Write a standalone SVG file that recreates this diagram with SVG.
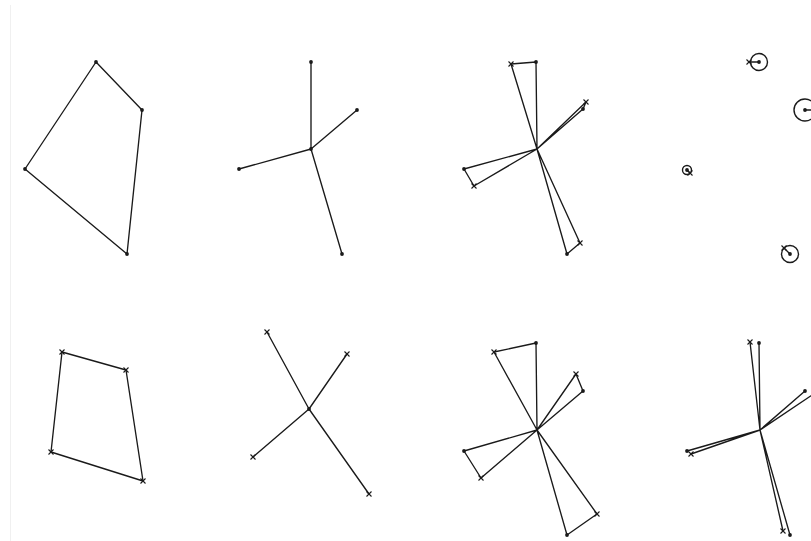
<svg xmlns="http://www.w3.org/2000/svg" width="811" height="541" viewBox="0 0 811 541">
<defs>
<style>
.ln{stroke:#1a1a1a;stroke-width:1.35;fill:none;stroke-linejoin:round}
.dot{fill:#1a1a1a}
.cx{stroke:#1a1a1a;stroke-width:1.1;fill:none}
.ring{stroke:#1a1a1a;stroke-width:1.4;fill:none}
</style>
<g id="d"><circle r="1.9" class="dot"/></g>
<g id="x"><path class="cx" d="M-2.5,-2.5L2.5,2.5M-2.5,2.5L2.5,-2.5"/><circle r="1.1" class="dot"/></g>
</defs>
<rect width="811" height="541" fill="#fff"/>
<line x1="10.5" y1="5" x2="10.5" y2="541" stroke="#f0f0f0" stroke-width="1"/>
<g id="connectors">
<polygon class="ln" points="96,62 142,110 127,254 25,169"/>
<path class="ln" d="M311,149L311,62M311,149L357,110M311,149L239,169M311,149L342,254"/>
<path class="ln" d="M537,149L536,62L511,64ZM537,149L586,102L583,109ZM537,149L464,169L474,186ZM537,149L567,254L580,243Z"/>
<path class="ln" d="M759,62L749,62M805,110L812,110M687,170L690,173M790,254L784,248"/>
<polygon class="ln" points="62,352 126,370 143,481 51,452"/>
<path class="ln" d="M309,409L267,332M309,409L347,354M309,409L253,457M309,409L369,494"/>
<path class="ln" d="M537,430L536,343L494,352ZM537,430L576,374L583,391ZM537,430L464,451L481,478ZM537,430L567,535L597,514Z"/>
<path class="ln" d="M760,430L750,342M760,430L759,343M760,430L805,391M760,430L830,383M760,430L687,451M760,430L691,454M760,430L783,531M760,430L790,535"/>
</g>
<g id="panel1">
<use href="#d" x="96" y="62"/><use href="#d" x="142" y="110"/><use href="#d" x="127" y="254"/><use href="#d" x="25" y="169"/>
</g>
<g id="panel2">
<use href="#d" x="311" y="149"/><use href="#d" x="311" y="62"/><use href="#d" x="357" y="110"/><use href="#d" x="239" y="169"/><use href="#d" x="342" y="254"/>
</g>
<g id="panel3">
<use href="#d" x="536" y="62"/><use href="#x" x="511" y="64"/><use href="#x" x="586" y="102"/><use href="#d" x="583" y="109"/><use href="#d" x="464" y="169"/><use href="#x" x="474" y="186"/><use href="#d" x="567" y="254"/><use href="#x" x="580" y="243"/>
</g>
<g id="panel4">
<circle class="ring" cx="759" cy="62" r="8.5"/><use href="#d" x="759" y="62"/><use href="#x" x="749" y="62"/>
<circle class="ring" cx="805" cy="110" r="11"/><use href="#d" x="805" y="110"/>
<circle class="ring" cx="687" cy="170" r="4.5"/><use href="#d" x="687" y="170"/><use href="#x" x="690" y="173"/>
<circle class="ring" cx="790" cy="254" r="8.5"/><use href="#d" x="790" y="254"/><use href="#x" x="784" y="248"/>
</g>
<g id="panel5">
<use href="#x" x="62" y="352"/><use href="#x" x="126" y="370"/><use href="#x" x="143" y="481"/><use href="#x" x="51" y="452"/>
</g>
<g id="panel6">
<use href="#d" x="309" y="409"/><use href="#x" x="267" y="332"/><use href="#x" x="347" y="354"/><use href="#x" x="253" y="457"/><use href="#x" x="369" y="494"/>
</g>
<g id="panel7">
<use href="#d" x="536" y="343"/><use href="#x" x="494" y="352"/><use href="#x" x="576" y="374"/><use href="#d" x="583" y="391"/><use href="#d" x="464" y="451"/><use href="#x" x="481" y="478"/><use href="#d" x="567" y="535"/><use href="#x" x="597" y="514"/>
</g>
<g id="panel8">
<use href="#x" x="750" y="342"/><use href="#d" x="759" y="343"/><use href="#d" x="805" y="391"/><use href="#d" x="687" y="451"/><use href="#x" x="691" y="454"/><use href="#x" x="783" y="531"/><use href="#d" x="790" y="535"/>
</g>
</svg>
